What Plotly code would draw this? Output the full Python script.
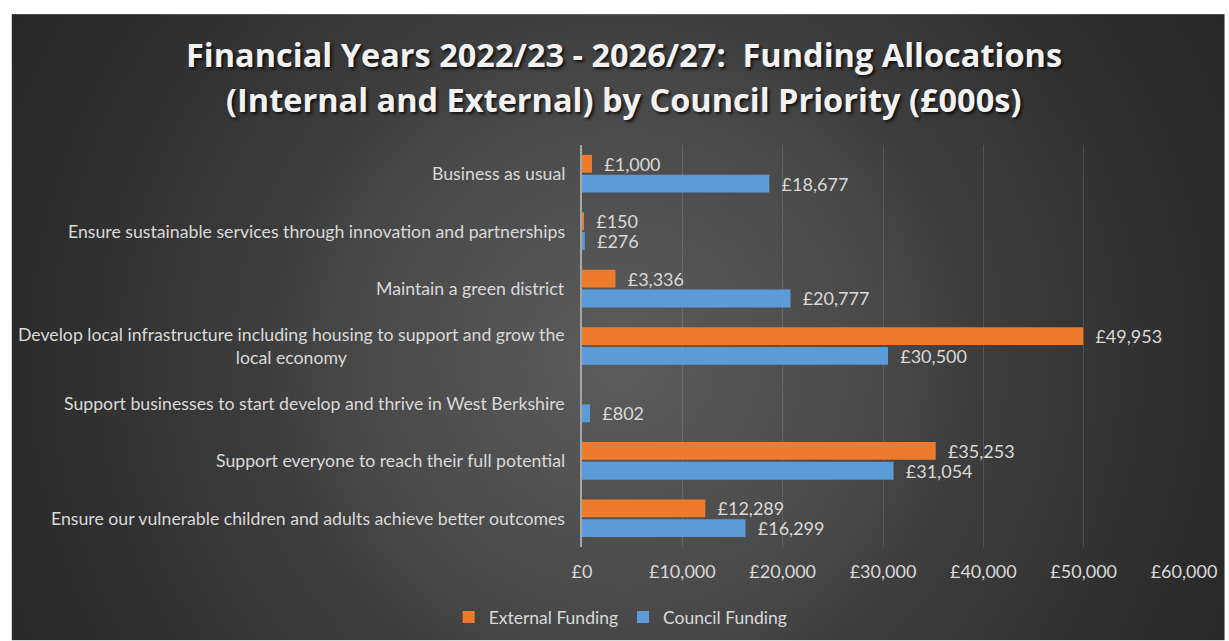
import base64
import plotly.graph_objects as go

# Council priorities, listed top to bottom
categories = [
    "Business as usual",
    "Ensure sustainable services through innovation and partnerships",
    "Maintain a green district",
    "Develop local infrastructure including housing to support and grow the<br>local economy",
    "Support businesses to start develop and thrive in West Berkshire",
    "Support everyone to reach their full potential",
    "Ensure our vulnerable children and adults achieve better outcomes",
]
# Funding in £000s
external_funding = [1000, 150, 3336, 49953, None, 35253, 12289]
council_funding = [18677, 276, 20777, 30500, 802, 31054, 16299]
x_ticks = [0, 10000, 20000, 30000, 40000, 50000, 60000]
x_tick_labels = ["£0", "£10,000", "£20,000", "£30,000", "£40,000", "£50,000", "£60,000"]

W, H = 1229, 641
ML, MR, MT, MB = 582, 41, 145, 93.5
PW, PH = W - ML - MR, H - MT - MB

FONT = "Lato"
TXT = "#d9d9d9"


def px_x(p):
    return (p - ML) / PW


def px_y(p):
    return (H - MB - p) / PH


# dark radial-gradient chart background
svg = (
    f'<svg xmlns="http://www.w3.org/2000/svg" width="{W}" height="{H}" '
    f'viewBox="0 0 {W} {H}" preserveAspectRatio="none">'
    '<defs><radialGradient id="g" gradientUnits="userSpaceOnUse" cx="620" cy="360" r="720">'
    '<stop offset="0" stop-color="#5c5c5c"/>'
    '<stop offset="0.36" stop-color="#494949"/>'
    '<stop offset="0.5" stop-color="#3d3d3d"/>'
    '<stop offset="0.85" stop-color="#2b2b2b"/>'
    '<stop offset="1" stop-color="#262626"/>'
    '</radialGradient></defs>'
    f'<rect width="{W}" height="{H}" fill="#ffffff"/>'
    f'<rect x="8" y="14" width="{W - 8}" height="{H - 14}" fill="url(#g)"/>'
    '</svg>'
)
bg_src = "data:image/svg+xml;base64," + base64.b64encode(svg.encode()).decode()

fig = go.Figure()
fig.add_trace(go.Bar(
    name="External Funding",
    y=categories, x=external_funding, orientation="h",
    marker=dict(color="#EE7B2C", line=dict(width=0)),
    texttemplate="\u00a0\u00a0£%{x:,}", textposition="outside",
    textfont=dict(family=FONT, size=18, color=TXT),
    constraintext="none", cliponaxis=False,
))
fig.add_trace(go.Bar(
    name="Council Funding",
    y=categories, x=council_funding, orientation="h",
    marker=dict(color="#5B9BD8", line=dict(width=0)),
    texttemplate="\u00a0\u00a0£%{x:,}", textposition="outside",
    textfont=dict(family=FONT, size=18, color=TXT),
    constraintext="none", cliponaxis=False,
))

annotations = []
# category labels, centred block alignment for wrapped text
for c in categories:
    annotations.append(dict(
        xref="paper", yref="y", x=px_x(567), y=c,
        xanchor="right", yanchor="middle", align="center",
        text=c, showarrow=False,
        font=dict(family=FONT, size=17.7, color=TXT),
    ))

title_lines = [
    "Financial Years 2022/23 - 2026/27:  Funding Allocations",
    "(Internal and External) by Council Priority (£000s)",
]
for line, yc in zip(title_lines, [54, 99]):
    annotations.append(dict(
        xref="paper", yref="paper", x=px_x(624), y=px_y(yc),
        xanchor="center", yanchor="middle", text=f"<b>{line}</b>",
        showarrow=False,
        font=dict(family="Open Sans", size=32.5, color="#f2f2f2",
                  shadow="2px 2px 3px rgba(0,0,0,0.75)"),
    ))

fig.update_layout(
    width=W, height=H,
    margin=dict(l=ML, r=MR, t=MT, b=MB),
    paper_bgcolor="#ffffff",
    plot_bgcolor="rgba(0,0,0,0)",
    barmode="group", bargap=0.31, bargroupgap=0.1,
    images=[dict(
        source=bg_src, xref="paper", yref="paper",
        x=-ML / PW, y=(H - MB) / PH, sizex=W / PW, sizey=H / PH,
        xanchor="left", yanchor="top", sizing="stretch", layer="below",
    )],
    xaxis=dict(
        range=[0, 60000], tickmode="array", tickvals=x_ticks, ticktext=x_tick_labels,
        showgrid=True, gridcolor="rgba(255,255,255,0.13)", gridwidth=1,
        zeroline=False, showline=False, ticks="",
        tickfont=dict(family=FONT, size=18, color=TXT),
        ticklabelstandoff=12,
    ),
    yaxis=dict(
        autorange="reversed", showticklabels=False, ticks="",
        showgrid=False, zeroline=False,
        showline=True, linecolor="#a6a6a6", linewidth=1.5,
    ),
    legend=dict(
        orientation="h", xref="container", yref="container",
        x=0.505, xanchor="center", y=1 - 617 / H, yanchor="middle",
        font=dict(family=FONT, size=17.5, color=TXT),
        bgcolor="rgba(0,0,0,0)", traceorder="normal", itemwidth=30,
    ),
    annotations=annotations,
    showlegend=True,
)

fig.write_html("out.html")
